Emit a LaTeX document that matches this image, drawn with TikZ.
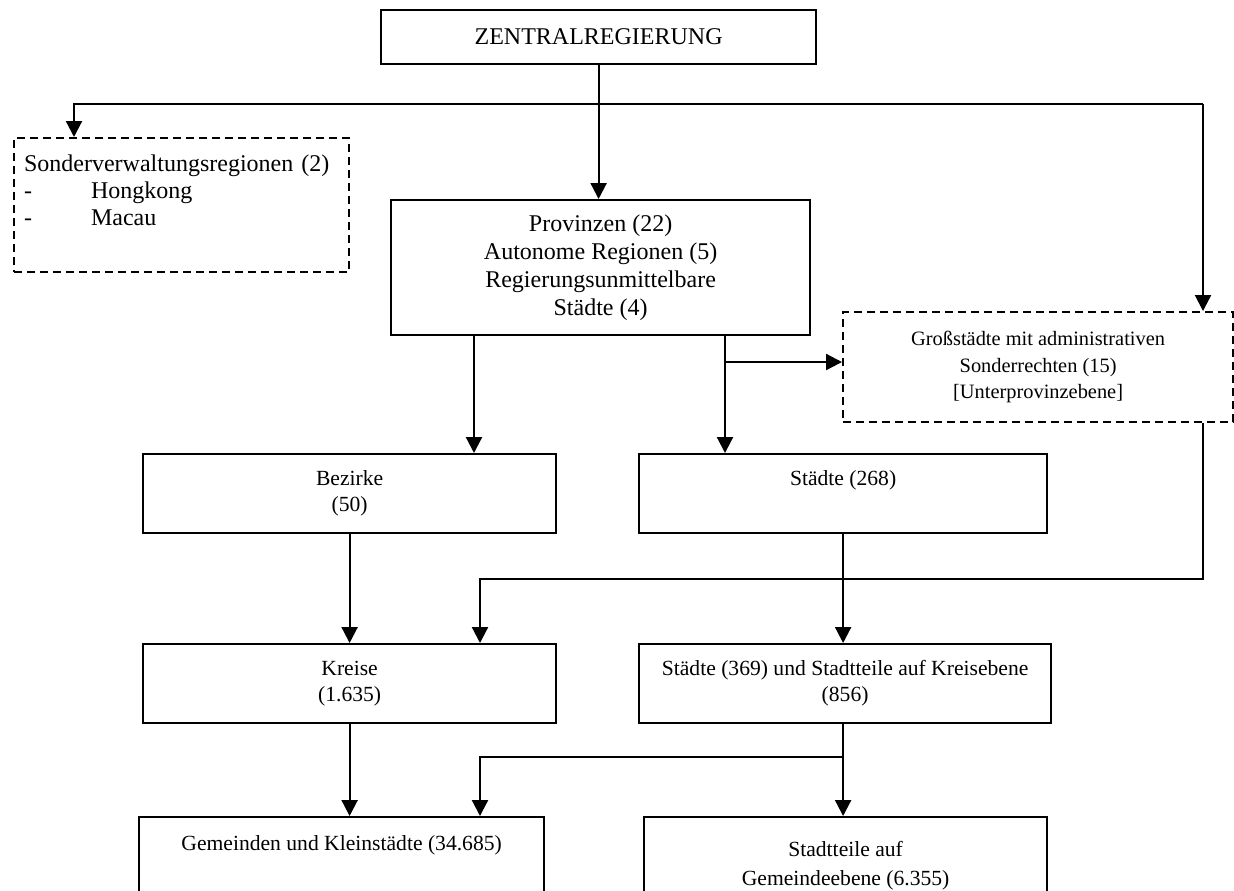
\documentclass[tikz,border=0pt]{standalone}
\usepackage{fontspec}
\setmainfont{Liberation Serif}
\usetikzlibrary{arrows.meta, positioning, calc}

\begin{document}
\begin{tikzpicture}[
  x=0.5pt, y=-0.5pt,
  box/.style={draw, line width=1.1pt, anchor=north west, align=center,
              font=\fontsize{12}{14}\selectfont},
  dbox/.style={box, dash pattern=on 4pt off 2.5pt},
  lvl/.style={draw, line width=1.1pt, anchor=north west, align=center, inner ysep=0pt,
              font=\fontsize{10.8}{13}\selectfont, text height=15.5pt, text depth=24pt},
  lvltwo/.style={lvl, text height=28.5pt, text depth=11pt},
  arr/.style={-{Triangle[length=8pt, width=8pt]}, line width=1.1pt}
]
  \useasboundingbox (0,0) rectangle (1234,890);
  \clip (0,0) rectangle (1234,890);

  % upper level
  \node[box, minimum width=217.5pt, minimum height=27pt] (zr) at (380,9) {ZENTRALREGIERUNG};
  \node[dbox, align=left, text width=157.5pt, inner xsep=5pt, inner ysep=0pt,
        text height=16.5pt, text depth=50.5pt, font=\fontsize{12}{13.5}\selectfont] (sar) at (13,137)
        {Sonderverwaltungsregionen (2)\\ \makebox[33.5pt][l]{-}Hongkong\\ \makebox[33.5pt][l]{-}Macau};
  \node[box, minimum width=209.5pt, minimum height=67.5pt] (prov) at (390,199)
        {Provinzen (22)\\ Autonome Regionen (5)\\ Regierungsunmittelbare\\ Städte (4)};
  \node[dbox, minimum width=195pt, minimum height=55pt, font=\fontsize{10.2}{13.3}\selectfont] (gross) at (842,311)
        {Großstädte mit administrativen\\ Sonderrechten (15)\\ {[}Unterprovinzebene{]}};

  % lower levels
  \node[lvltwo, minimum width=206.5pt] (bez) at (142,453) {Bezirke\\ (50)};
  \node[lvl, minimum width=204pt] (st) at (638,453) {Städte (268)};
  \node[lvltwo, minimum width=206.5pt] (kr) at (142,643) {Kreise\\ (1.635)};
  \node[lvltwo, minimum width=206pt] (sk) at (638,643) {Städte (369) und Stadtteile auf Kreisebene\\ (856)};
  \node[lvl, minimum width=202.5pt, text height=16.5pt, text depth=43.5pt] (gem) at (138,816)
        {Gemeinden und Kleinstädte (34.685)};
  \node[lvl, minimum width=201.5pt, text height=34pt, text depth=26pt,
        font=\fontsize{10.8}{14.5}\selectfont] (stt) at (643,816)
        {Stadtteile auf\\ Gemeindeebene (6.355)};

  % branch points
  \coordinate (lt) at (74,104);
  \coordinate (rt) at (1203,104);
  \coordinate (pl) at (474,362);
  \coordinate (pr) at (725,362);
  \coordinate (kg) at (480,579);
  \coordinate (gk) at (480,757);

  \draw[arr] (zr.south) -- (zr.south |- prov.north);
  \draw[arr] (rt) -- (lt) -- (lt |- sar.north);
  \draw[arr] (rt) -- (rt |- gross.north);

  \draw[arr] (prov.south -| pl) -- (bez.north -| pl);
  \draw[arr] (prov.south -| pr) -- (st.north -| pr);
  \draw[arr] (pr) -- (pr -| gross.west);

  \draw[arr] (bez.south) -- (bez.south |- kr.north);
  \draw[arr] (gross.south -| rt) |- (kg) -- (kg |- kr.north);
  \draw[arr] (st.south) -- (st.south |- sk.north);

  \draw[arr] (kr.south) -- (kr.south |- gem.north);
  \draw[arr] (st.south |- sk.south) -- (st.south |- stt.north);
  \draw[arr] (gk -| st.south) -- (gk) -- (gk |- gem.north);
\end{tikzpicture}
\end{document}
